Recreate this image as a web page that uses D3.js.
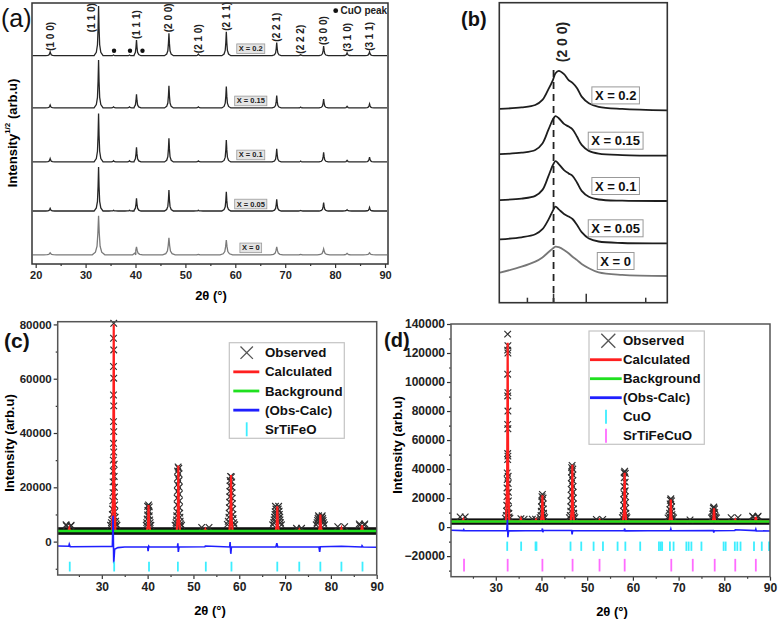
<!DOCTYPE html>
<html>
<head>
<meta charset="utf-8">
<script src="https://cdnjs.cloudflare.com/ajax/libs/d3/7.8.5/d3.min.js"></script>
<style>
  body { margin: 0; background: #fff; }
  svg { display: block; font-family: "Liberation Sans", Arial, sans-serif; font-weight: bold; }
</style>
</head>
<body>
<div id="svg"></div>
<script>
// ---------------- data: panel (a) ----------------
var hkl = ["(1 0 0)", "(1 1 0)", "(1 1 1)", "(2 0 0)", "(2 1 0)", "(2 1 1)", "(2 2 1)", "(2 2 2)", "(3 0 0)", "(3 1 0)", "(3 1 1)"];
var hklPos = [22.9, 32.6, 40.2, 46.7, 52.6, 58.2, 68.3, 73.1, 77.7, 82.4, 86.9];
var samples = ["X = 0", "X = 0.05", "X = 0.1", "X = 0.15", "X = 0.2"];
var offsetsA = [3.5, 20.3, 39.1, 59.8, 79.8];          // stacked baseline of each pattern
var heightsA = [                                        // sqrt-intensity of each hkl peak
  [0.8, 15.0, 3.1, 6.5, 0.2, 5.7, 3.1, 0.2, 2.3, 0.6, 0.8],
  [1.0, 16.9, 4.9, 8.0, 0.3, 7.4, 4.5, 0.2, 3.2, 0.5, 1.4],
  [1.3, 18.6, 5.6, 9.1, 0.4, 8.4, 5.0, 0.3, 3.7, 0.6, 1.8],
  [1.1, 18.4, 5.2, 8.5, 0.4, 8.2, 4.7, 0.3, 3.4, 0.6, 1.5],
  [1.5, 19.0, 6.0, 8.6, 0.6, 9.2, 5.0, 0.4, 3.7, 1.1, 1.5]
];
var cuoPos = [35.6, 38.8];
var cuoHeights = [0, 0.3, 0.5, 0.4, 0.3];
var cuoDots = [35.7, 38.9, 41.4];
var ticksA = [20, 30, 40, 50, 60, 70, 80, 90];
var minorA = [25, 35, 45, 55, 65, 75, 85];

// ---------------- data: panel (b) ----------------
var bX = [45.68, 46.01, 46.22, 46.33, 46.42, 46.49, 46.53, 46.58, 46.66, 46.73, 46.79, 46.86, 46.93, 47.04, 47.19, 47.55, 48.24];
var bY = [
  [10.0, 12.0, 13.7, 15.1, 16.8, 18.1, 18.7, 18.5, 17.6, 16.5, 15.3, 14.2, 12.9, 11.5, 10.1, 9.3, 8.9],
  [21.1, 21.8, 22.8, 24.5, 27.6, 30.7, 32.0, 31.1, 29.6, 28.7, 27.9, 25.9, 23.5, 21.4, 20.4, 19.9, 19.8],
  [34.2, 34.7, 35.6, 37.6, 42.1, 45.9, 47.2, 46.2, 44.2, 43.1, 42.3, 40.0, 37.3, 35.3, 34.4, 34.0, 33.9],
  [49.5, 50.0, 50.9, 53.1, 57.6, 61.1, 62.2, 61.5, 59.6, 58.7, 57.8, 55.3, 52.6, 50.6, 49.7, 49.2, 49.0],
  [64.6, 65.1, 65.9, 67.6, 71.1, 74.2, 76.5, 77.3, 76.2, 74.2, 73.3, 71.5, 68.7, 66.5, 65.3, 64.6, 64.1]
];
var bTicks = [46.1, 46.5, 47.0, 47.91];
var bMajor = [false, true, true, false];
var bPeak = 46.5;

// ---------------- data: panel (c) ----------------
var legendC = ["Observed", "Calculated", "Background", "(Obs-Calc)", "SrTiFeO"];
var obsC = [
  [32.6,80400],[32.55,74900],[32.6,70600],[32.55,64500],[32.6,60200],[32.55,54000],[32.6,50000],[32.55,44200],[32.6,40500],[32.55,36200],
  [32.6,33000],[32.5,30000],[32.7,28500],[32.5,26000],[32.7,24000],[32.45,22000],[32.75,20000],[32.45,18000],[32.75,16500],[32.4,15000],
  [32.8,13500],[32.35,12000],[32.85,11000],[32.3,10000],[32.9,9000],[32.2,8000],[33.0,7500],[32.1,7000],[33.1,6500],[31.9,6000],[33.3,6000],
  [40.2,13500],[40.0,13000],[40.35,12800],[40.05,11500],[40.3,11000],[40.0,9800],[40.35,9500],[39.9,8300],[40.45,8000],[39.8,7000],[40.55,7000],[39.7,6000],[40.7,6000],
  [46.65,27500],[46.8,27000],[46.55,26000],[46.85,25000],[46.55,23500],[46.85,22500],[46.5,21000],[46.9,20000],[46.5,18500],[46.9,17500],
  [46.45,16000],[46.95,15000],[46.45,13500],[46.95,12500],[46.4,11000],[47.0,10500],[46.35,9500],[47.05,9000],[46.3,8000],[47.1,7500],[46.2,7000],[47.2,6500],[46.0,6000],[47.4,6000],
  [58.1,24000],[58.3,23800],[58.0,22500],[58.35,22000],[58.0,20500],[58.4,20000],[57.95,18500],[58.4,18000],[57.95,16500],[58.45,16000],
  [57.9,14500],[58.5,14000],[57.85,12500],[58.55,12000],[57.8,10500],[58.6,10000],[57.75,9000],[58.65,8500],[57.6,7500],[58.8,7000],[57.4,6300],[59.0,6200],
  [67.9,13000],[68.6,13000],[68.0,12000],[68.5,12000],[67.85,11000],[68.7,11200],[67.8,10000],[68.75,10000],[67.7,9000],[68.85,9000],[67.6,8000],[68.9,8000],[67.5,7000],[69.0,7000],[67.3,6200],[69.2,6200],
  [77.3,9500],[78.1,9500],[77.4,9000],[78.0,9000],[77.2,8500],[78.2,8500],[77.1,7800],[78.3,7800],[77.0,7000],[78.4,7000],[76.8,6200],[78.6,6200],
  [22.2,6200],[22.3,5800],[23.3,6000],[23.2,5700],[51.8,5200],[53.4,5200],[72.5,4900],[73.6,4900],[81.5,5500],[83.0,5500],[86.2,6500],[86.3,6000],[87.4,6500],[87.3,6100]
];
var bandC = [2500, 5300];
var bgC = 3900;
var calcPosC = [22.9, 32.6, 40.2, 46.7, 52.6, 58.2, 68.3, 73.1, 77.7, 82.3, 86.8];
var calcHC = [4800, 80000, 13500, 28000, 4500, 24500, 13000, 4400, 10000, 4800, 6000];
var calcBaseC = 3900;
var diffC = [
  [20.4,-1600],[22.8,-1700],[22.9,-1000],[23.1,-1900],[30,-1800],[32.3,-1800],[32.45,9500],[32.6,-8000],[32.8,-2800],[33.5,-2200],
  [35,-2000],[40.0,-2000],[40.1,-3500],[40.25,-1700],[40.4,-2000],[46.5,-2000],[46.6,-600],[46.7,-3800],[46.85,-2000],[52.5,-1900],
  [52.6,-1600],[57.9,-2000],[58.0,-200],[58.15,-4500],[58.3,-2000],[68.0,-2000],[68.2,-600],[68.4,-2000],[77.4,-2000],[77.55,-3800],
  [77.7,-1900],[82.3,-1700],[86.7,-2000],[86.8,-1500],[87,-2000],[90,-2100]
];
var reflC = [23.0, 32.7, 40.3, 46.6, 52.7, 58.3, 68.3, 73.1, 77.7, 82.3, 86.9];

// ---------------- data: panel (d) ----------------
var legendD = ["Observed", "Calculated", "Background", "(Obs-Calc)", "CuO", "SrTiFeCuO"];
var obsD = [
  [32.6,133000],[32.65,125000],[32.6,122000],[32.65,120000],[32.6,105400],[32.65,92700],[32.6,90400],[32.65,80000],[32.6,70800],[32.65,67800],
  [32.6,50700],[32.65,48900],[32.6,46600],[32.5,37400],[32.7,35000],[32.5,32700],[32.7,30000],[32.45,27000],[32.75,24000],[32.45,21000],
  [32.75,18000],[32.4,15000],[32.8,13000],[32.35,11000],[32.85,9500],[32.3,8000],[32.9,7000],[32.1,6200],[33.1,6200],
  [40.2,22500],[40.1,21000],[40.35,20000],[40.05,18000],[40.35,16000],[40.0,14000],[40.4,12500],[39.95,11000],[40.45,9500],[39.9,8000],[40.5,7500],[39.7,6500],[40.7,6500],
  [46.7,42500],[46.6,41000],[46.85,40000],[46.6,38000],[46.85,36000],[46.55,34000],[46.85,32000],[46.55,30000],[46.9,28000],[46.5,26000],
  [46.9,24000],[46.5,22000],[46.95,20000],[46.45,18000],[46.95,16000],[46.45,14000],[47.0,12500],[46.4,11000],[47.05,9500],[46.3,8000],[47.1,7500],[46.1,6500],[47.3,6500],
  [58.2,38500],[58.1,37500],[58.35,37000],[58.1,34000],[58.3,31000],[58.05,28000],[58.3,25000],[58.05,23000],[58.35,21000],[58.0,19000],
  [58.4,17000],[58.0,15000],[58.4,13000],[57.95,11000],[58.45,9500],[57.9,8000],[58.55,7500],[57.7,6500],[58.7,6500],
  [68.3,19500],[68.2,18500],[68.45,18000],[68.15,16000],[68.45,14000],[68.1,12000],[68.5,11000],[68.05,9500],[68.55,8500],[67.9,7500],[68.7,7000],[67.7,6300],[68.9,6300],
  [77.7,13800],[77.6,13000],[77.85,12500],[77.55,11000],[77.9,10000],[77.5,9000],[77.95,8000],[77.4,7000],[78.1,7000],[77.2,6300],[78.3,6300],
  [22.2,7000],[23.3,7000],[35.5,5800],[36.2,5500],[38.0,5500],[38.7,5500],[52.0,5300],[53.4,5300],[72.5,5000],[81.5,6500],[83.0,6500],
  [86.2,7500],[86.3,7000],[87.4,7500],[87.3,7000]
];
var bandD = [1600, 6000];
var bgD = 3900;
var calcPosD = [22.9, 32.6, 35.5, 38.8, 40.2, 46.75, 52.7, 58.2, 68.3, 77.75, 82.4, 86.9];
var calcHD = [5200, 127000, 5500, 5000, 22000, 43000, 4800, 37500, 19000, 13000, 5000, 7000];
var calcBaseD = 3900;
var diffD = [
  [20.2,-2200],[22.9,-2400],[23.0,-1800],[23.1,-2500],[32.4,-2400],[32.55,5000],[32.65,-7000],[32.8,-2600],[40.1,-2400],[40.2,-1000],
  [40.3,-3500],[40.4,-2400],[46.6,-2400],[46.7,-5000],[46.8,-3000],[46.9,-2500],[58.1,-2400],[58.2,-1000],[58.3,-2600],[68.2,-2300],
  [68.3,-1300],[68.4,-2500],[77.6,-2400],[77.7,-3800],[77.8,-2500],[82.3,-2400],[82.4,-1800],[86.8,-2400],[86.9,-1500],[87.0,-2600],[90,-2700]
];
var reflCuO = [32.5, 35.55, 38.7, 38.9, 46.35, 48.7, 51.4, 53.45, 56.65, 58.35, 61.6, 65.7, 66.1, 66.4, 68.1, 68.9, 71.7, 72.2, 72.8, 75.0,
  79.85, 80.3, 82.3, 82.85, 83.55, 86.5, 88.2, 89.8];
var reflD = [23.05, 32.6, 40.2, 46.8, 52.7, 58.2, 68.4, 73.1, 77.9, 82.4, 86.9];

var ticksCD = [30, 40, 50, 60, 70, 80, 90];
var minorCD = [25, 35, 45, 55, 65, 75, 85];

// ---------------- drawing ----------------
var width = 779, height = 620;
var FONT = '"Liberation Sans", Arial, sans-serif';
var RED = "#ff1f1f", GREEN = "#1fe01f", BLUE = "#1f1fff", CYAN = "#3ceeff", MAGENTA = "#ff6bff";

var svg = d3.select("#svg").append("svg")
  .attr("width", width)
  .attr("height", height);

function styleAxis(g, size) {
  g.select(".domain").remove();
  g.attr("font-family", FONT).attr("font-size", size).attr("font-weight", "bold");
  g.selectAll("line").attr("stroke", "#333").attr("stroke-width", 1.2);
  g.selectAll("text").attr("fill", "#222");
}

// ===== panel (a) : stacked XRD patterns =====
var ax = d3.scaleLinear().domain([19.26, 90.6]).range([32, 388]);
var ay = d3.scaleLinear().domain([0, 100]).range([264, 3]);
var peakShape = [[-0.9, 0], [-0.45, 0.07], [-0.22, 0.22], [-0.1, 0.55], [0, 1], [0.1, 0.55], [0.22, 0.22], [0.45, 0.07], [0.9, 0]];

var ga = svg.append("g");
var lineA = d3.line().x(function (d) { return ax(d[0]); }).y(function (d) { return ay(d[1]); });

samples.forEach(function (s, i) {
  var base = offsetsA[i];
  var widen = i === 0 ? 1.4 : 1;
  var pos = hklPos.concat(cuoPos);
  var hs = heightsA[i].concat([cuoHeights[i], cuoHeights[i]]);
  var pts = [[19.4, base], [90.4, base]];
  pos.forEach(function (p, k) {
    peakShape.forEach(function (sh) { pts.push([p + sh[0] * widen, base + sh[1] * hs[k]]); });
  });
  pts.sort(function (a, b) { return a[0] - b[0]; });
  ga.append("path").datum(pts)
    .attr("d", lineA)
    .attr("fill", "none")
    .attr("stroke", i === 0 ? "#7a7a7a" : "#262626")
    .attr("stroke-width", 1.3);

  // sample label box
  var lg = ga.append("g").attr("transform", "translate(" + ax(63.1) + "," + (ay(base) - 7) + ")");
  var t = lg.append("text").text(s)
    .attr("text-anchor", "middle").attr("dominant-baseline", "central")
    .attr("font-size", 7.5).attr("fill", "#222");
  var bb = t.node().getBBox();
  lg.insert("rect", "text")
    .attr("x", bb.x - 2).attr("y", -4.8).attr("width", bb.width + 4).attr("height", 9.6)
    .attr("fill", "#e4e4e4").attr("stroke", "#9a9a9a").attr("stroke-width", 0.8);
});

// hkl labels above the top pattern
var maxK = d3.maxIndex(heightsA[4]);
hkl.forEach(function (h, k) {
  var top = ay(offsetsA[4] + heightsA[4][k]);
  var x = ax(hklPos[k]), y = top - 1;
  if (k === maxK) { x -= 6.7; y = top + 26; }
  ga.append("text").text(h)
    .attr("transform", "translate(" + x + "," + y + ") rotate(-90)")
    .attr("text-anchor", "start").attr("dominant-baseline", "central")
    .attr("font-size", 10).attr("fill", "#222");
});

// CuO markers
ga.selectAll(".cuo").data(cuoDots).enter().append("circle")
  .attr("cx", function (d) { return ax(d); })
  .attr("cy", ay(offsetsA[4]) - 5)
  .attr("r", 2.2).attr("fill", "#111");
ga.append("circle").attr("cx", 335.7).attr("cy", 10.7).attr("r", 2.4).attr("fill", "#111");
ga.append("text").text("CuO peak").attr("x", 340.5).attr("y", 10.7)
  .attr("dominant-baseline", "central").attr("font-size", 10).attr("fill", "#222");

ga.append("g").attr("transform", "translate(0,264)")
  .call(d3.axisBottom(ax).tickValues(ticksA).tickSize(4).tickPadding(3))
  .call(styleAxis, 11);
ga.append("g").attr("transform", "translate(0,264)")
  .call(d3.axisBottom(ax).tickValues(minorA).tickSize(2).tickFormat(""))
  .call(styleAxis, 11);
ga.append("rect").attr("x", 32).attr("y", 3).attr("width", 356).attr("height", 261)
  .attr("fill", "none").attr("stroke", "#333").attr("stroke-width", 1.5);

ga.append("text").text("2θ (°)").attr("x", 211).attr("y", 295)
  .attr("text-anchor", "middle").attr("dominant-baseline", "central").attr("font-size", 13);
var yt = ga.append("text").attr("transform", "translate(12,133) rotate(-90)")
  .attr("text-anchor", "middle").attr("dominant-baseline", "central").attr("font-size", 13);
yt.append("tspan").text("Intensity");
yt.append("tspan").text("1/2").attr("font-size", 8).attr("dy", -5);
yt.append("tspan").text(" (arb.u)").attr("dy", 5);
ga.append("text").text("(a)").attr("x", 1).attr("y", 27)
  .attr("font-size", 25).attr("font-weight", "normal").attr("fill", "#111");

// ===== panel (b) : (2 0 0) reflection =====
var bx = d3.scaleLinear().domain([45.67, 48.24]).range([499.3, 667.3]);
var by = d3.scaleLinear().domain([0, 100]).range([302.7, 2.7]);
var gb = svg.append("g");
var lineB = d3.line().curve(d3.curveCatmullRom)
  .x(function (d, j) { return bx(bX[j]); })
  .y(function (d) { return by(d); });

gb.append("line")
  .attr("x1", bx(bPeak)).attr("x2", bx(bPeak)).attr("y1", 70).attr("y2", 302.7)
  .attr("stroke", "#222").attr("stroke-width", 1.8).attr("stroke-dasharray", "7,5");

bY.forEach(function (ys, i) {
  gb.append("path").datum(ys)
    .attr("d", lineB)
    .attr("fill", "none")
    .attr("stroke", i === 0 ? "#777" : "#1e1e1e")
    .attr("stroke-width", 1.8);
  var lg = gb.append("g").attr("transform", "translate(" + bx(47.45) + "," + (by(ys[ys.length - 1]) - 15) + ")");
  var t = lg.append("text").text(samples[i])
    .attr("text-anchor", "middle").attr("dominant-baseline", "central")
    .attr("font-size", 13).attr("fill", "#111");
  var bb = t.node().getBBox();
  lg.insert("rect", "text")
    .attr("x", bb.x - 3).attr("y", -8.5).attr("width", bb.width + 6).attr("height", 17)
    .attr("fill", "#fff").attr("stroke", "#999").attr("stroke-width", 1);
});

gb.selectAll(".btick").data(bTicks).enter().append("line")
  .attr("x1", function (d) { return bx(d); }).attr("x2", function (d) { return bx(d); })
  .attr("y1", 302.7)
  .attr("y2", function (d, j) { return 302.7 - (bMajor[j] ? 9 : 5); })
  .attr("stroke", "#333").attr("stroke-width", 1.5);
gb.append("rect").attr("x", 499.3).attr("y", 2.7).attr("width", 168).attr("height", 300)
  .attr("fill", "none").attr("stroke", "#333").attr("stroke-width", 1.6);
gb.append("text").text("(2 0 0)")
  .attr("transform", "translate(" + (bx(bPeak) + 8) + ",42) rotate(-90)")
  .attr("text-anchor", "middle").attr("dominant-baseline", "central")
  .attr("font-size", 14).attr("fill", "#222");
gb.append("text").text("(b)").attr("x", 461).attr("y", 26).attr("font-size", 20).attr("fill", "#111");

// ===== panels (c) and (d) : Rietveld refinements =====
function drawRietveld(p) {
  var g = svg.append("g");
  var x = p.x, y = p.y;
  var x0 = x.range()[0], x1 = x.range()[1];
  var yb = y.range()[0], ytop = y.range()[1];

  // dense observed background points
  g.append("rect").attr("x", x0).attr("width", x1 - x0)
    .attr("y", y(p.band[1])).attr("height", y(p.band[0]) - y(p.band[1]))
    .attr("fill", "#111");

  // observed points
  g.selectAll(".obs").data(p.obs).enter().append("path")
    .attr("d", "M-3.3,-3.3L3.3,3.3M-3.3,3.3L3.3,-3.3")
    .attr("transform", function (d) { return "translate(" + x(d[0]) + "," + y(d[1]) + ")"; })
    .attr("fill", "none").attr("stroke", "#2e2e2e").attr("stroke-width", 1.15);

  // calculated profile
  var spike = [[-0.35, 0], [-0.12, 0.22], [0, 1], [0.12, 0.22], [0.35, 0]];
  var cpts = [[x.domain()[0], p.calcBase], [x.domain()[1], p.calcBase]];
  p.calcPos.forEach(function (c, k) {
    spike.forEach(function (s) { cpts.push([c + s[0], p.calcBase + s[1] * (p.calcH[k] - p.calcBase)]); });
  });
  cpts.sort(function (a, b) { return a[0] - b[0]; });
  var ln = d3.line().x(function (d) { return x(d[0]); }).y(function (d) { return y(d[1]); });
  g.append("path").datum(cpts).attr("d", ln)
    .attr("fill", "none").attr("stroke", RED).attr("stroke-width", 2.2);

  // background (drawn over the calculated baseline)
  g.append("line").attr("x1", x0).attr("x2", x1).attr("y1", y(p.bg)).attr("y2", y(p.bg))
    .attr("stroke", GREEN).attr("stroke-width", 2.6);

  // difference curve
  g.append("path").datum(p.diff).attr("d", ln)
    .attr("fill", "none").attr("stroke", BLUE).attr("stroke-width", 1.6);

  // reflection markers
  p.refl.forEach(function (r) {
    g.selectAll(null).data(r.pos).enter().append("line")
      .attr("x1", function (d) { return x(d); }).attr("x2", function (d) { return x(d); })
      .attr("y1", y(r.range[0])).attr("y2", y(r.range[1]))
      .attr("stroke", r.color).attr("stroke-width", 1.8);
  });

  // axes
  g.append("g").attr("transform", "translate(0," + yb + ")")
    .call(d3.axisBottom(x).tickValues(ticksCD).tickSize(4).tickPadding(3))
    .call(styleAxis, 12);
  g.append("g").attr("transform", "translate(0," + yb + ")")
    .call(d3.axisBottom(x).tickValues(minorCD).tickSize(2).tickFormat(""))
    .call(styleAxis, 12);
  g.append("g").attr("transform", "translate(" + x0 + ",0)")
    .call(d3.axisLeft(y).tickValues(p.yTicks).tickSize(4).tickPadding(2).tickFormat(d3.format("d")))
    .call(styleAxis, p.yFont);
  g.append("g").attr("transform", "translate(" + x0 + ",0)")
    .call(d3.axisLeft(y).tickValues(p.yMinor).tickSize(2).tickFormat(""))
    .call(styleAxis, p.yFont);
  g.append("rect").attr("x", x0).attr("y", ytop).attr("width", x1 - x0).attr("height", yb - ytop)
    .attr("fill", "none").attr("stroke", "#555").attr("stroke-width", 1.5);

  g.append("text").text("2θ (°)").attr("x", p.xTitle[0]).attr("y", p.xTitle[1])
    .attr("text-anchor", "middle").attr("dominant-baseline", "central").attr("font-size", 13);
  g.append("text").text("Intensity (arb.u)")
    .attr("transform", "translate(" + p.yTitle[0] + "," + p.yTitle[1] + ") rotate(-90)")
    .attr("text-anchor", "middle").attr("dominant-baseline", "central").attr("font-size", 13);

  // legend
  var L = p.legend;
  g.append("rect").attr("x", L.box[0]).attr("y", L.box[1]).attr("width", L.box[2]).attr("height", L.box[3])
    .attr("fill", "#fff").attr("stroke", "#c4c4c4").attr("stroke-width", 1.2);
  L.names.forEach(function (n, i) {
    var ry = L.row0 + i * L.step;
    if (n === "Observed") {
      var h = L.cross;
      g.append("path")
        .attr("d", "M" + (L.sym - h) + "," + (ry - h) + "L" + (L.sym + h) + "," + (ry + h) +
                   "M" + (L.sym - h) + "," + (ry + h) + "L" + (L.sym + h) + "," + (ry - h))
        .attr("stroke", "#555").attr("stroke-width", 1.3);
    } else if (n === "Calculated" || n === "Background" || n === "(Obs-Calc)") {
      var col = n === "Calculated" ? RED : (n === "Background" ? GREEN : BLUE);
      g.append("line").attr("x1", L.line[0]).attr("x2", L.line[1]).attr("y1", ry).attr("y2", ry)
        .attr("stroke", col).attr("stroke-width", 2.8);
    } else {
      var tc = (n === "CuO" || p.legend.names.length === 5) ? CYAN : MAGENTA;
      g.append("line").attr("x1", L.tick).attr("x2", L.tick).attr("y1", ry - 7).attr("y2", ry + 7)
        .attr("stroke", tc).attr("stroke-width", 1.8);
    }
    g.append("text").text(n).attr("x", L.text).attr("y", ry)
      .attr("dominant-baseline", "central").attr("font-size", 13.3).attr("fill", "#111");
  });

  g.append("text").text(p.tag).attr("x", p.tagPos[0]).attr("y", p.tagPos[1])
    .attr("font-size", p.tagSize).attr("fill", "#111");
}

drawRietveld({
  x: d3.scaleLinear().domain([20.37, 90]).range([57.7, 376.7]),
  y: d3.scaleLinear().domain([-12300, 81000]).range([575, 321.7]),
  obs: obsC, band: bandC, bg: bgC,
  calcPos: calcPosC, calcH: calcHC, calcBase: calcBaseC,
  diff: diffC,
  refl: [{ pos: reflC, range: [-7400, -11000], color: CYAN }],
  yTicks: [0, 20000, 40000, 60000, 80000],
  yMinor: [-10000, 10000, 30000, 50000, 70000],
  yFont: 11.5,
  xTitle: [210, 610], yTitle: [9.5, 443],
  legend: { names: legendC, box: [229.3, 342.7, 115, 95.6], row0: 352.7, step: 19.15,
            sym: 246.7, cross: 6.2, line: [233.3, 259.3], tick: 246.7, text: 265 },
  tag: "(c)", tagPos: [4, 348], tagSize: 21
});

drawRietveld({
  x: d3.scaleLinear().domain([20.2, 90]).range([451, 770]),
  y: d3.scaleLinear().domain([-34200, 140000]).range([576.7, 324]),
  obs: obsD, band: bandD, bg: bgD,
  calcPos: calcPosD, calcH: calcHD, calcBase: calcBaseD,
  diff: diffD,
  refl: [{ pos: reflCuO, range: [-10000, -16400], color: CYAN },
         { pos: reflD, range: [-21900, -30600], color: MAGENTA }],
  yTicks: [-20000, 0, 20000, 40000, 60000, 80000, 100000, 120000, 140000],
  yMinor: [-30000, -10000, 10000, 30000, 50000, 70000, 90000, 110000, 130000],
  yFont: 12,
  xTitle: [612, 611.7], yTitle: [397.5, 445],
  legend: { names: legendD, box: [589, 331, 115.3, 113.3], row0: 340.7, step: 19,
            sym: 608.3, cross: 7, line: [590, 621.7], tick: 606, text: 623 },
  tag: "(d)", tagPos: [384, 347], tagSize: 20
});
</script>
</body>
</html>
